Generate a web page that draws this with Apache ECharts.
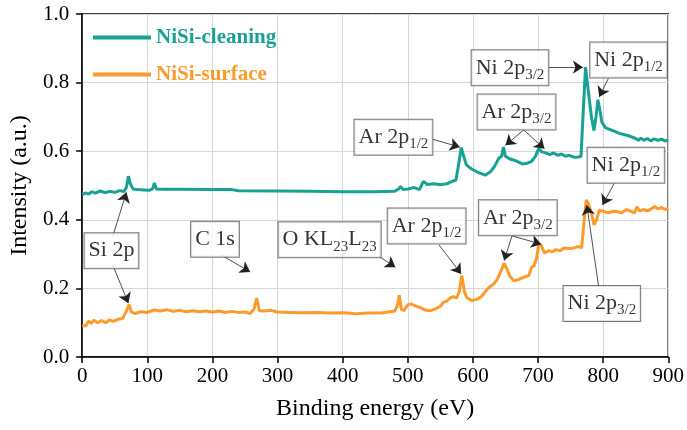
<!DOCTYPE html>
<html>
<head>
<meta charset="utf-8">
<script src="https://cdn.jsdelivr.net/npm/echarts@6/dist/echarts.min.js"></script>
<style>
  html, body { margin: 0; padding: 0; background: #fff; }
  #chart { width: 687px; height: 430px; }
</style>
</head>
<body>
<div id="chart"></div>
<script>
// NiSi-cleaning spectrum (binding energy, intensity)
const energyCleaning = [0, 5, 10, 15, 20, 28, 35, 42, 50, 58, 64, 68, 71, 74, 78, 85, 95, 103, 108, 111, 114, 125, 150, 200, 230, 240, 300, 350, 400, 450, 480, 486, 489, 493, 500, 510, 518, 524, 530, 540, 550, 560, 568, 574, 578, 582, 586, 590, 598, 608, 619, 627, 633, 640, 644, 647, 650, 656, 666, 676, 684, 690, 696, 701, 706, 712, 718, 724, 730, 736, 742, 748, 756, 762, 766, 769, 773, 777, 782, 786, 789, 792, 795, 798, 804, 815, 825, 839, 850, 854, 858, 863, 868, 873, 878, 884, 890, 895, 900]
const intensityCleaning = [0.473, 0.478, 0.475, 0.482, 0.478, 0.484, 0.479, 0.483, 0.480, 0.485, 0.482, 0.495, 0.527, 0.505, 0.490, 0.488, 0.487, 0.486, 0.490, 0.507, 0.490, 0.489, 0.489, 0.488, 0.488, 0.485, 0.484, 0.483, 0.482, 0.482, 0.483, 0.490, 0.497, 0.488, 0.490, 0.494, 0.488, 0.512, 0.503, 0.505, 0.502, 0.505, 0.512, 0.516, 0.560, 0.610, 0.585, 0.560, 0.548, 0.538, 0.530, 0.540, 0.555, 0.580, 0.585, 0.612, 0.585, 0.578, 0.572, 0.563, 0.565, 0.570, 0.585, 0.608, 0.598, 0.595, 0.590, 0.595, 0.588, 0.592, 0.585, 0.588, 0.582, 0.583, 0.585, 0.700, 0.845, 0.780, 0.700, 0.660, 0.700, 0.750, 0.720, 0.685, 0.668, 0.660, 0.652, 0.645, 0.637, 0.632, 0.638, 0.632, 0.637, 0.630, 0.636, 0.632, 0.635, 0.630, 0.632]

// NiSi-surface spectrum
const energySurface = [0, 6, 10, 14, 18, 24, 30, 36, 42, 48, 55, 62, 67, 72, 76, 82, 90, 100, 110, 120, 130, 140, 150, 160, 170, 180, 190, 200, 210, 220, 230, 240, 250, 258, 264, 268, 272, 280, 290, 300, 320, 340, 360, 380, 400, 420, 440, 460, 470, 480, 484, 487, 490, 494, 500, 505, 512, 520, 528, 535, 542, 550, 555, 560, 565, 570, 575, 579, 583, 587, 591, 598, 606, 613, 620, 626, 632, 637, 642, 648, 652, 657, 663, 670, 678, 686, 690, 694, 698, 701, 705, 710, 716, 722, 728, 734, 740, 748, 755, 762, 767, 770, 774, 778, 782, 786, 790, 794, 800, 808, 814, 820, 828, 836, 842, 848, 852, 856, 862, 868, 874, 879, 884, 890, 895, 900]
const intensitySurface = [0.090, 0.092, 0.105, 0.098, 0.107, 0.100, 0.106, 0.100, 0.108, 0.104, 0.110, 0.112, 0.130, 0.153, 0.130, 0.127, 0.132, 0.130, 0.137, 0.134, 0.138, 0.133, 0.136, 0.132, 0.135, 0.132, 0.134, 0.131, 0.134, 0.130, 0.133, 0.130, 0.131, 0.127, 0.140, 0.172, 0.135, 0.134, 0.136, 0.131, 0.130, 0.129, 0.130, 0.128, 0.129, 0.126, 0.128, 0.128, 0.131, 0.134, 0.150, 0.180, 0.140, 0.135, 0.152, 0.155, 0.149, 0.143, 0.136, 0.135, 0.140, 0.148, 0.160, 0.163, 0.172, 0.176, 0.172, 0.190, 0.238, 0.190, 0.172, 0.165, 0.168, 0.176, 0.193, 0.205, 0.213, 0.225, 0.245, 0.273, 0.258, 0.235, 0.222, 0.226, 0.232, 0.238, 0.262, 0.265, 0.290, 0.327, 0.325, 0.303, 0.310, 0.307, 0.313, 0.310, 0.318, 0.316, 0.318, 0.322, 0.318, 0.380, 0.458, 0.445, 0.420, 0.385, 0.400, 0.428, 0.425, 0.420, 0.424, 0.425, 0.420, 0.430, 0.425, 0.420, 0.438, 0.425, 0.430, 0.426, 0.432, 0.439, 0.432, 0.436, 0.430, 0.434]

const seriesNames = ['NiSi-cleaning', 'NiSi-surface']
const xTicks = { min: 0, max: 900, interval: 100 }
const yTicks = { min: 0, max: 1, interval: 0.2 }

// peak labels: box centre and arrows (box edge -> peak), in data units
const annotations = [
  { text: 'Ni 2p{s|3/2}', at: [657, 0.843], arrows: [[[716, 0.845], [769, 0.845]]] },
  { text: 'Ni 2p{s|1/2}', at: [839, 0.866], arrows: [[[808, 0.812], [794, 0.758]]] },
  { text: 'Ar 2p{s|3/2}', at: [667, 0.714], arrows: [[[678, 0.662], [650, 0.617]], [[678, 0.662], [710, 0.607]]] },
  { text: 'Ar 2p{s|1/2}', at: [478, 0.641], arrows: [[[536, 0.636], [580, 0.612]]] },
  { text: 'Ni 2p{s|1/2}', at: [835, 0.559], arrows: [[[817, 0.506], [799, 0.443]]] },
  { text: 'Ar 2p{s|3/2}', at: [669, 0.406], arrows: [[[660, 0.353], [648, 0.281]], [[660, 0.353], [705, 0.329]]] },
  { text: 'Ar 2p{s|1/2}', at: [529, 0.382], arrows: [[[548, 0.327], [582, 0.242]]] },
  { text: 'O KL{s|23}L{s|23}', at: [380, 0.342], arrows: [[[456, 0.293], [481, 0.262]]] },
  { text: 'C 1s', at: [204, 0.343], arrows: [[[213, 0.298], [258, 0.248]]] },
  { text: 'Si 2p', at: [45, 0.31], arrows: [[[47, 0.352], [68, 0.48]], [[47, 0.268], [71, 0.157]]] },
  { text: 'Ni 2p{s|3/2}', at: [798, 0.156], arrows: [[[793, 0.207], [775, 0.443]]] }
]

const colors = ['#17a294', '#fd9a2c']
const font = 'Liberation Serif'

const chart = echarts.init(document.getElementById('chart'))

const zip = (xs, ys) => xs.map((x, i) => [x, ys[i]])

const arrowData = []
annotations.forEach(a => a.arrows.forEach(c => arrowData.push({ coords: c })))

chart.setOption({
  animation: false,
  color: colors,
  grid: {
    left: 82,
    right: 17,
    top: 14,
    bottom: 73,
    show: true,
    borderColor: '#000',
    borderWidth: 1.5
  },
  legend: {
    orient: 'vertical',
    left: 88,
    top: 22,
    icon: 'rect',
    itemWidth: 58,
    itemHeight: 4,
    itemGap: 16,
    data: seriesNames.map((n, i) => ({
      name: n,
      textStyle: { color: colors[i], fontFamily: font, fontWeight: 'bold', fontSize: 21 }
    }))
  },
  xAxis: {
    type: 'value',
    min: xTicks.min,
    max: xTicks.max,
    interval: xTicks.interval,
    name: 'Binding energy (eV)',
    nameLocation: 'middle',
    nameGap: 40,
    nameTextStyle: { fontFamily: font, fontSize: 24, color: '#000' },
    axisLine: { show: true, onZero: false, lineStyle: { color: '#000', width: 1.5 } },
    axisTick: { show: true, inside: false, length: 6, lineStyle: { color: '#000', width: 1.5 } },
    axisLabel: { fontFamily: font, fontSize: 21, color: '#000', margin: 9 },
    splitLine: { show: true, lineStyle: { color: '#d6d6d6', width: 1 } }
  },
  yAxis: {
    type: 'value',
    min: yTicks.min,
    max: yTicks.max,
    interval: yTicks.interval,
    name: 'Intensity (a.u.)',
    nameLocation: 'middle',
    nameGap: 44,
    nameTextStyle: { fontFamily: font, fontSize: 24, color: '#000' },
    axisLine: { show: true, onZero: false, lineStyle: { color: '#000', width: 1.5 } },
    axisTick: { show: true, inside: false, length: 6, lineStyle: { color: '#000', width: 1.5 } },
    axisLabel: {
      fontFamily: font,
      fontSize: 21,
      color: '#000',
      margin: 13,
      formatter: v => v.toFixed(1)
    },
    splitLine: { show: true, lineStyle: { color: '#d6d6d6', width: 1 } }
  },
  series: [
    {
      name: seriesNames[0],
      type: 'line',
      data: zip(energyCleaning, intensityCleaning),
      showSymbol: false,
      lineStyle: { width: 3, color: colors[0] },
      z: 3
    },
    {
      name: seriesNames[1],
      type: 'line',
      data: zip(energySurface, intensitySurface),
      showSymbol: false,
      lineStyle: { width: 3, color: colors[1] },
      z: 3
    },
    {
      name: 'arrows',
      type: 'lines',
      coordinateSystem: 'cartesian2d',
      data: arrowData,
      symbol: ['none', 'arrow'],
      symbolSize: 10,
      lineStyle: { color: '#222', width: 0.8, opacity: 1 },
      silent: true,
      z: 5
    },
    {
      name: 'labels',
      type: 'scatter',
      data: annotations.map(a => ({ value: a.at, text: a.text })),
      symbolSize: 0,
      silent: true,
      z: 6,
      label: {
        show: true,
        position: 'inside',
        formatter: p => p.data.text,
        fontFamily: font,
        fontSize: 22,
        lineHeight: 29,
        color: '#000',
        backgroundColor: '#fff',
        borderColor: '#555',
        borderWidth: 1,
        padding: [3, 4, 3, 4],
        rich: {
          s: { fontFamily: font, fontSize: 15, lineHeight: 13, verticalAlign: 'bottom', color: '#000' }
        }
      }
    }
  ]
})
</script>
</body>
</html>
